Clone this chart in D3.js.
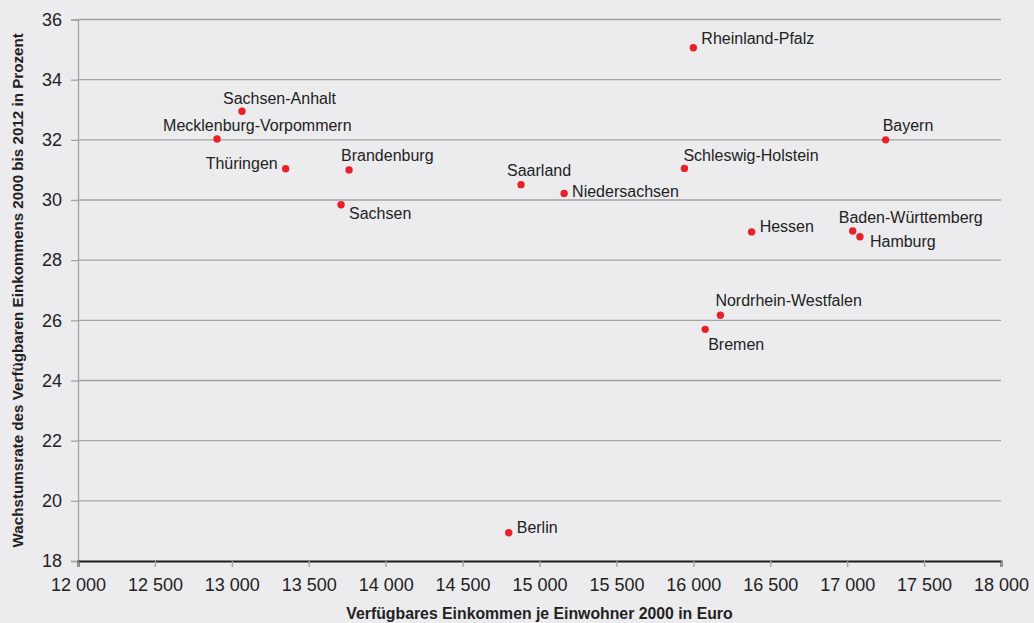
<!DOCTYPE html>
<html>
<head>
<meta charset="utf-8">
<script src="https://cdn.jsdelivr.net/npm/d3@7/dist/d3.min.js"></script>
<style>
  html, body { margin: 0; padding: 0; background: #ececee; }
  svg { display: block; font-family: "Liberation Sans", Arial, Helvetica, sans-serif; }
</style>
</head>
<body>
<svg id="chart" width="1034" height="623"></svg>
<script>
// ---- Data ----
const states = ["Sachsen-Anhalt","Mecklenburg-Vorpommern","Thüringen","Brandenburg","Sachsen",
  "Saarland","Niedersachsen","Rheinland-Pfalz","Bayern","Schleswig-Holstein","Hessen",
  "Baden-Württemberg","Hamburg","Nordrhein-Westfalen","Bremen","Berlin"];
const income2000 = [13066, 12904, 13350, 13762, 13710, 14880, 15160, 16000, 17250, 15942, 16379,
  17036, 17083, 16176, 16077, 14800];
const growthRate = [32.95, 32.03, 31.04, 31.0, 29.84, 30.51, 30.22, 35.06, 32.0, 31.05, 28.94,
  28.97, 28.78, 26.17, 25.7, 18.94];
const xTicks = [12000,12500,13000,13500,14000,14500,15000,15500,16000,16500,17000,17500,18000];
const yTicks = [18,20,22,24,26,28,30,32,34,36];
const xTitle = "Verfügbares Einkommen je Einwohner 2000 in Euro";
const yTitle = "Wachstumsrate des Verfügbaren Einkommens 2000 bis 2012 in Prozent";

// ---- Label placement (layout, not data) ----
const labelPlacement = {
  "Sachsen-Anhalt": {dx: -19, dy: -7, anchor: "start"},
  "Mecklenburg-Vorpommern": {dx: -54, dy: -8, anchor: "start"},
  "Thüringen": {dx: -8, dy: 0, anchor: "end"},
  "Brandenburg": {dx: -8, dy: -9, anchor: "start"},
  "Sachsen": {dx: 8, dy: 14, anchor: "start"},
  "Saarland": {dx: -14, dy: -9, anchor: "start"},
  "Niedersachsen": {dx: 8, dy: 4, anchor: "start"},
  "Rheinland-Pfalz": {dx: 8, dy: -4, anchor: "start"},
  "Bayern": {dx: -3, dy: -9, anchor: "start"},
  "Schleswig-Holstein": {dx: -1, dy: -7, anchor: "start"},
  "Hessen": {dx: 8, dy: 0, anchor: "start"},
  "Baden-Württemberg": {dx: -14, dy: -8, anchor: "start"},
  "Hamburg": {dx: 10, dy: 10, anchor: "start"},
  "Nordrhein-Westfalen": {dx: -5, dy: -9, anchor: "start"},
  "Bremen": {dx: 3, dy: 21, anchor: "start"},
  "Berlin": {dx: 8, dy: 0, anchor: "start"}
};

const svg = d3.select("#chart");
const margin = {left: 78, right: 33, top: 19.5, bottom: 62};
const W = 1034, H = 623;

const x = d3.scaleLinear().domain([12000, 18000]).range([margin.left, W - margin.right]);
const y = d3.scaleLinear().domain([18, 36]).range([H - margin.bottom, margin.top]);

const fmt = v => d3.format(",")(v).replace(",", " ");

// grid lines
svg.append("g")
  .selectAll("line")
  .data(yTicks.filter(d => d !== 18))
  .join("line")
  .attr("x1", x.range()[0]).attr("x2", x.range()[1])
  .attr("y1", d => y(d)).attr("y2", d => y(d))
  .attr("stroke", "#a3a3a5").attr("stroke-width", 1.3);

// y axis
const yAxis = svg.append("g")
  .attr("transform", `translate(${margin.left},0)`)
  .call(d3.axisLeft(y).tickValues(yTicks).tickSize(7).tickPadding(9).tickFormat(d3.format("d")));
yAxis.select(".domain").attr("stroke", "#a3a3a5").attr("stroke-width", 1.3);
yAxis.selectAll(".tick line").attr("stroke", "#a3a3a5").attr("stroke-width", 1.3);
yAxis.selectAll(".tick text").attr("fill", "#222").style("font-size", "18px")
  .style("font-family", "'Liberation Sans', Arial, sans-serif");

// x axis
const xAxis = svg.append("g")
  .attr("transform", `translate(0,${y(18)})`)
  .call(d3.axisBottom(x).tickValues(xTicks).tickSize(6).tickPadding(11).tickFormat(fmt));
xAxis.select(".domain").attr("stroke", "#1a1a1a").attr("stroke-width", 2);
xAxis.selectAll(".tick line").attr("stroke", "#a3a3a5").attr("stroke-width", 1.3);
xAxis.selectAll(".tick text").attr("fill", "#222").style("font-size", "18px")
  .style("font-family", "'Liberation Sans', Arial, sans-serif");

// points
const data = states.map((s, i) => ({name: s, x: income2000[i], y: growthRate[i]}));
svg.append("g")
  .selectAll("circle")
  .data(data)
  .join("circle")
  .attr("cx", d => x(d.x)).attr("cy", d => y(d.y))
  .attr("r", 3.7)
  .attr("fill", "#e8202a");

// labels
svg.append("g")
  .selectAll("text")
  .data(data)
  .join("text")
  .attr("x", d => x(d.x) + labelPlacement[d.name].dx)
  .attr("y", d => y(d.y) + labelPlacement[d.name].dy)
  .attr("text-anchor", d => labelPlacement[d.name].anchor)
  .attr("fill", "#222")
  .style("font-size", "16px")
  .text(d => d.name);

// axis titles
svg.append("text")
  .attr("x", (x.range()[0] + x.range()[1]) / 2)
  .attr("y", 619)
  .attr("text-anchor", "middle")
  .attr("fill", "#222")
  .style("font-size", "15.8px").style("font-weight", "bold")
  .text(xTitle);

svg.append("text")
  .attr("transform", `translate(23,${(y(18) + y(36)) / 2}) rotate(-90)`)
  .attr("text-anchor", "middle")
  .attr("fill", "#222")
  .style("font-size", "15.2px").style("font-weight", "bold")
  .text(yTitle);
</script>
</body>
</html>
